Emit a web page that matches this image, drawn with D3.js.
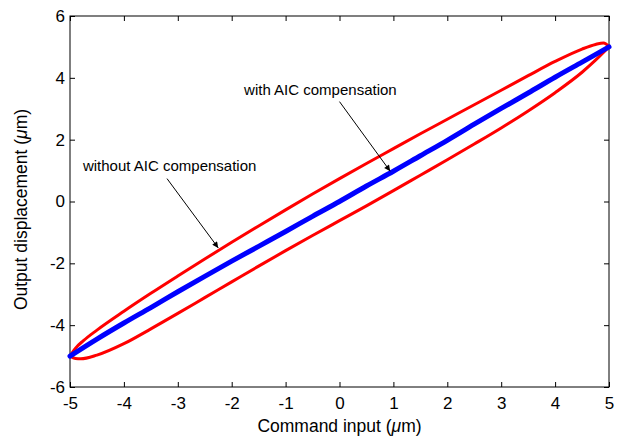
<!DOCTYPE html>
<html>
<head>
<meta charset="utf-8">
<script src="https://cdn.jsdelivr.net/npm/d3@7"></script>
<style>
  body { margin: 0; background: #fff; }
  svg { display: block; }
  text { font-family: "Liberation Sans", Arial, Helvetica, sans-serif; fill: #000; }
</style>
</head>
<body>
<svg id="chart" width="619" height="438"></svg>
<script>
// ---- data ----
const xTicks = [-5, -4, -3, -2, -1, 0, 1, 2, 3, 4, 5];
const yTicks = [-6, -4, -2, 0, 2, 4, 6];

// without AIC compensation: upper branch (x ascending)
const upperX = [-5, -4.9, -4.75, -4.5, -4.0, -3.5, -3.0, -2.5, -2.0, -1.5, -1.0, -0.5, 0, 0.5, 1.0, 1.5, 2.0, 2.5, 3.0, 3.5, 4.0, 4.5, 4.75, 4.9, 5.0];
const upperY = [-5.0, -4.75, -4.5, -4.16, -3.55, -2.97, -2.41, -1.86, -1.32, -0.79, -0.27, 0.24, 0.74, 1.23, 1.71, 2.19, 2.66, 3.13, 3.6, 4.07, 4.53, 4.93, 5.08, 5.13, 5.02];
// without AIC compensation: lower branch (x ascending)
const lowerX = [-5, -4.9, -4.8, -4.5, -4.0, -3.5, -3.0, -2.5, -2.0, -1.5, -1.0, -0.5, 0, 0.5, 1.0, 1.5, 2.0, 2.5, 3.0, 3.5, 4.0, 4.5, 4.75, 5.0];
const lowerY = [-5.0, -5.08, -5.09, -4.97, -4.6, -4.12, -3.62, -3.11, -2.6, -2.09, -1.59, -1.1, -0.62, -0.14, 0.35, 0.85, 1.35, 1.86, 2.38, 2.93, 3.52, 4.18, 4.57, 5.0];
// with AIC compensation
const blueX = [-5, -4.5, -4, -3.5, -3, -2.5, -2, -1.5, -1, -0.5, 0, 0.5, 1, 1.5, 2, 2.5, 3, 3.5, 4, 4.5, 5];
const blueY = [-5, -4.45, -3.93, -3.43, -2.92, -2.42, -1.93, -1.45, -0.97, -0.48, 0.0, 0.5, 0.98, 1.48, 1.98, 2.5, 3.01, 3.51, 4.02, 4.51, 5.0];

// annotations: text anchor (data) and arrow from/to (data)
const annoLabels = ["without AIC compensation", "with AIC compensation"];
const annoTextX = [-4.76, -1.77];
const annoTextY = [1.0, 3.45];
const arrowFromX = [-3.2, 0.0];
const arrowFromY = [0.74, 3.23];
const arrowToX = [-2.25, 0.94];
const arrowToY = [-1.5, 0.98];

// ---- layout ----
const svg = d3.select("#chart");
const L = 70, R = 609, T = 16, B = 387;
const x = d3.scaleLinear().domain([-5, 5]).range([L, R]);
const y = d3.scaleLinear().domain([-6, 6]).range([B, T]);

svg.append("defs").append("marker")
  .attr("id", "arrow").attr("viewBox", "0 0 10 10")
  .attr("refX", 10).attr("refY", 5)
  .attr("markerWidth", 8).attr("markerHeight", 6)
  .attr("markerUnits", "userSpaceOnUse")
  .attr("orient", "auto")
  .append("path").attr("d", "M0,0 L10,5 L0,10 Z").attr("fill", "#000");

const tickLen = 5;
const gB = svg.append("g").attr("transform", `translate(0,${B})`)
  .call(d3.axisBottom(x).tickValues(xTicks).tickSizeInner(-tickLen).tickSizeOuter(0).tickPadding(10));
const gT = svg.append("g").attr("transform", `translate(0,${T})`)
  .call(d3.axisTop(x).tickValues(xTicks).tickSizeInner(-tickLen).tickSizeOuter(0).tickFormat(""));
const gL = svg.append("g").attr("transform", `translate(${L},0)`)
  .call(d3.axisLeft(y).tickValues(yTicks).tickSizeInner(-tickLen).tickSizeOuter(0).tickPadding(5));
const gR = svg.append("g").attr("transform", `translate(${R},0)`)
  .call(d3.axisRight(y).tickValues(yTicks).tickSizeInner(-tickLen).tickSizeOuter(0).tickFormat(""));
[gB, gT, gL, gR].forEach(g => {
  g.select(".domain").remove();
  g.selectAll("line").attr("stroke", "#000").attr("stroke-width", 1);
  g.selectAll("text").attr("font-size", 17).attr("font-family", '"Liberation Sans", Arial, sans-serif').attr("fill", "#000");
});
gB.selectAll("text").text(d => d < 0 ? "-" + Math.abs(d) : d);
gL.selectAll("text").text(d => d < 0 ? "-" + Math.abs(d) : d);

svg.append("rect").attr("x", L).attr("y", T).attr("width", R - L).attr("height", B - T)
  .attr("fill", "none").attr("stroke", "#000").attr("stroke-width", 1);

// data lines
const line = d3.line().x(d => x(d[0])).y(d => y(d[1])).curve(d3.curveMonotoneX);
const upper = upperX.map((v, i) => [v, upperY[i]]);
const lower = lowerX.map((v, i) => [v, lowerY[i]]);
[upper, lower].forEach(br => {
  svg.append("path").datum(br).attr("d", line)
    .attr("fill", "none").attr("stroke", "#ff0000").attr("stroke-width", 3)
    .attr("stroke-linejoin", "round").attr("stroke-linecap", "round");
});

const blue = blueX.map((v, i) => [v, blueY[i]]);
svg.append("path").datum(blue).attr("d", line)
  .attr("fill", "none").attr("stroke", "#0000ff").attr("stroke-width", 5).attr("stroke-linecap", "round");

annoLabels.forEach((t, i) => {
  svg.append("text").attr("x", x(annoTextX[i])).attr("y", y(annoTextY[i]))
    .attr("font-size", 15).text(t);
  svg.append("line")
    .attr("x1", x(arrowFromX[i])).attr("y1", y(arrowFromY[i]))
    .attr("x2", x(arrowToX[i])).attr("y2", y(arrowToY[i]))
    .attr("stroke", "#000").attr("stroke-width", 1).attr("marker-end", "url(#arrow)");
});

const xt = svg.append("text").attr("x", (L + R) / 2).attr("y", 432)
  .attr("text-anchor", "middle").attr("font-size", 17.5);
xt.append("tspan").text("Command input (");
xt.append("tspan").attr("font-style", "italic").text("μ");
xt.append("tspan").text("m)");

const yt = svg.append("text")
  .attr("transform", `translate(27,${(T + B) / 2 + 8}) rotate(-90)`)
  .attr("text-anchor", "middle").attr("font-size", 17.5);
yt.append("tspan").text("Output displacement (");
yt.append("tspan").attr("font-style", "italic").text("μ");
yt.append("tspan").text("m)");
</script>
</body>
</html>
